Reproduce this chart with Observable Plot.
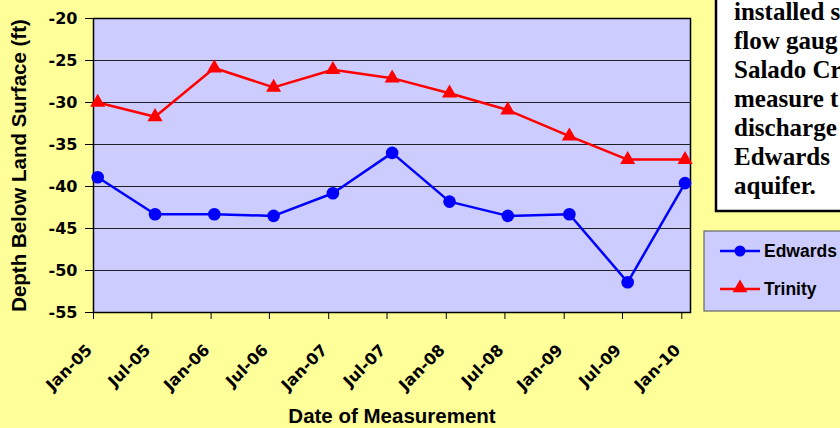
<!DOCTYPE html>
<html>
<head>
<meta charset="utf-8">
<script src="https://cdn.jsdelivr.net/npm/d3@7"></script>
<script src="https://cdn.jsdelivr.net/npm/@observablehq/plot@0.6"></script>
<style>
  html, body { margin: 0; padding: 0; background: #FFFF99; overflow: hidden; }
  #chart svg { display: block; }
</style>
</head>
<body>
<div id="chart"></div>
<script>
const dates = ["2005-01-14","2005-07-11","2006-01-11","2006-07-14","2007-01-14","2007-07-17","2008-01-11","2008-07-10","2009-01-17","2009-07-17","2010-01-11"];
const edwards = [-38.9,-43.3,-43.3,-43.5,-40.8,-36.0,-41.8,-43.5,-43.3,-51.4,-39.6];
const trinity = [-30.0,-31.7,-25.9,-28.2,-26.1,-27.1,-28.9,-30.9,-34.0,-36.8,-36.8];
const xTicks = ["2005-01-01","2005-07-01","2006-01-01","2006-07-01","2007-01-01","2007-07-01","2008-01-01","2008-07-01","2009-01-01","2009-07-01","2010-01-01"];
const xTickLabels = ["Jan-05","Jul-05","Jan-06","Jul-06","Jan-07","Jul-07","Jan-08","Jul-08","Jan-09","Jul-09","Jan-10"];
const yTicks = [-55,-50,-45,-40,-35,-30,-25,-20];
const seriesNames = ["Edwards","Trinity"];
const seriesColors = ["#0000FF","#FF0000"];
const noteLines = ["installed s","flow gaug","Salado Cr","measure t","discharge","Edwards","aquifer."];

const parse = d3.utcParse("%Y-%m-%d");
const edData = dates.map((d, i) => ({date: parse(d), value: edwards[i]}));
const trData = dates.map((d, i) => ({date: parse(d), value: trinity[i]}));
const tickDates = xTicks.map(parse);
const labelOf = new Map(tickDates.map((d, i) => [+d, xTickLabels[i]]));

const font = "'Liberation Sans', Arial, sans-serif";
const tickFont = "'DejaVu Sans', sans-serif";

const plot = Plot.plot({
  width: 840,
  height: 428,
  marginLeft: 93,
  marginRight: 150,
  marginTop: 18,
  marginBottom: 116,
  style: {fontFamily: font, fontWeight: "bold", fontSize: "16px", background: "#FFFF99", color: "black", overflow: "visible"},
  x: {type: "utc", domain: [parse("2005-01-01"), parse("2010-01-28")]},
  y: {domain: [-55, -20]},
  marks: [
    Plot.frame({fill: "#CCCCFF"}),
    Plot.ruleY(yTicks.slice(1, -1), {stroke: "black", strokeWidth: 1, strokeOpacity: 0.85}),
    Plot.frame({stroke: "black", strokeWidth: 1.5}),
    Plot.axisY({ticks: yTicks, tickSize: 8, tickPadding: 8, tickFormat: d => String(d), fontSize: 16,
      label: "Depth Below Land Surface (ft)", labelAnchor: "center", labelArrow: "none", labelOffset: 82}),
    Plot.axisX({ticks: tickDates, tickSize: 7, tickFormat: () => "", label: null}),
    Plot.axisX({ticks: tickDates, tickSize: 0, tickPadding: 11, tickFormat: d => labelOf.get(+d), tickRotate: -45, fontSize: 16,
      dx: -4, dy: 24, label: null}),
    Plot.axisX({ticks: [], tickSize: 0, label: "Date of Measurement", labelAnchor: "center", labelArrow: "none", labelOffset: 110}),
    Plot.line(trData, {x: "date", y: "value", stroke: seriesColors[1], strokeWidth: 2.5}),
    Plot.dot(trData, {x: "date", y: "value", fill: seriesColors[1], symbol: "triangle", r: 5.6}),
    Plot.line(edData, {x: "date", y: "value", stroke: seriesColors[0], strokeWidth: 2.5}),
    Plot.dot(edData, {x: "date", y: "value", fill: seriesColors[0], r: 6.3})
  ]
});

document.getElementById("chart").appendChild(plot);

const svg = d3.select(plot);
// tick label font and axis title styling
svg.selectAll("[aria-label='y-axis tick label'], [aria-label='x-axis tick label']").style("font-family", tickFont);
svg.selectAll("[aria-label='y-axis label'], [aria-label='x-axis label']").style("font-size", "20.5px");

// Note box
const note = svg.append("g").attr("class", "note").attr("text-anchor", "start");
note.append("rect").attr("x", 716).attr("y", -10).attr("width", 200).attr("height", 221)
  .attr("fill", "white").attr("stroke", "black").attr("stroke-width", 2.5);
note.selectAll("text").data(noteLines).join("text")
  .attr("x", 734).attr("y", (d, i) => 20 + i * 29)
  .style("font-family", "'Liberation Serif', 'Times New Roman', serif")
  .style("font-weight", "bold").style("font-size", "25px").attr("fill", "black")
  .text(d => d);

// Legend
const leg = svg.append("g").attr("class", "legend").attr("text-anchor", "start");
leg.append("rect").attr("x", 704).attr("y", 231).attr("width", 160).attr("height", 80)
  .attr("fill", "#CCCCFF").attr("stroke", "#666").attr("stroke-width", 1.2);
const ly = [251, 289];
seriesNames.forEach((name, i) => {
  leg.append("line").attr("x1", 720).attr("x2", 760).attr("y1", ly[i]).attr("y2", ly[i])
    .attr("stroke", seriesColors[i]).attr("stroke-width", 2.5);
  if (i === 0) {
    leg.append("circle").attr("cx", 740).attr("cy", ly[i]).attr("r", 5.5).attr("fill", seriesColors[i]);
  } else {
    leg.append("path").attr("transform", `translate(740,${ly[i] - 1})`)
      .attr("d", d3.symbol(d3.symbolTriangle, Math.PI * 5.5 * 5.5)()).attr("fill", seriesColors[i]);
  }
  leg.append("text").attr("x", 764).attr("y", ly[i] + 6)
    .style("font-family", font).style("font-weight", "bold").style("font-size", "17.5px")
    .attr("fill", "black").text(name);
});
</script>
</body>
</html>
